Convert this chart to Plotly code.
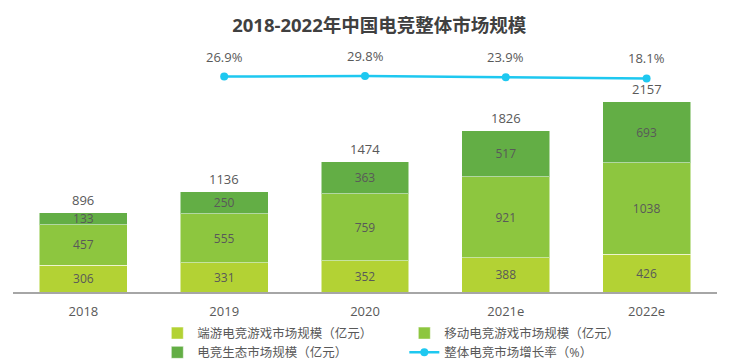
import plotly.graph_objects as go

categories = ["2018", "2019", "2020", "2021e", "2022e"]
pc_esports = [306, 331, 352, 388, 426]
mobile_esports = [457, 555, 759, 921, 1038]
ecosystem = [133, 250, 363, 517, 693]
totals = [896, 1136, 1474, 1826, 2157]
growth_cats = ["2019", "2020", "2021e", "2022e"]
growth = [26.9, 29.8, 23.9, 18.1]
growth_labels = ["26.9%", "29.8%", "23.9%", "18.1%"]

names = ["端游电竞游戏市场规模（亿元）", "移动电竞游戏市场规模（亿元）",
         "电竞生态市场规模（亿元）", "整体电竞市场增长率（%）"]
colors = ["#b3d234", "#8dc63f", "#63ae45"]
line_color = "#1ec8f0"
text_color = "#595959"
FONT = "Open Sans, Noto Sans CJK SC, sans-serif"

fig = go.Figure()
for vals, name, col in zip([pc_esports, mobile_esports, ecosystem], names[:3], colors):
    fig.add_trace(go.Bar(
        x=categories, y=vals, name=name,
        marker=dict(color=col, line=dict(color="rgba(255,255,255,0.5)", width=1)),
        text=[str(v) for v in vals], textposition="inside",
        insidetextanchor="middle",
        textfont=dict(color=text_color, size=12, family=FONT),
        hoverinfo="skip",
    ))

fig.add_trace(go.Scatter(
    x=growth_cats, y=growth, name=names[3], yaxis="y2",
    mode="lines+markers",
    line=dict(color=line_color, width=2.5),
    marker=dict(color=line_color, size=8),
    hoverinfo="skip",
))

annotations = []
for c, t in zip(categories, totals):
    annotations.append(dict(x=categories.index(c), y=t, xref="x", yref="y", text=str(t),
                            showarrow=False, yshift=13,
                            font=dict(size=13, color=text_color, family=FONT)))
for c, g, lbl in zip(growth_cats, growth, growth_labels):
    annotations.append(dict(x=categories.index(c), y=g, xref="x", yref="y2", text=lbl,
                            showarrow=False, yshift=20,
                            font=dict(size=13, color=text_color, family=FONT)))

fig.update_layout(
    width=750, height=361,
    margin=dict(l=5, r=41, t=37, b=77, autoexpand=False),
    paper_bgcolor="white", plot_bgcolor="white",
    barmode="stack", bargap=0.376,
    font=dict(family=FONT, color=text_color),
    uniformtext=dict(minsize=12, mode="show"),
    title=dict(text="<b>2018-2022年中国电竞整体市场规模</b>",
               x=0.495, xanchor="center", y=0.952, yanchor="middle",
               font=dict(size=18.5, color="#404040", family=FONT)),
    xaxis=dict(type="category", categoryorder="array", categoryarray=categories,
               range=[-0.5, len(categories) - 0.5],
               showline=True, linecolor="#a6a6a6", linewidth=2,
               ticks="", ticklabelstandoff=6,
               tickfont=dict(size=13, color=text_color, family=FONT),
               showgrid=False, zeroline=False),
    yaxis=dict(range=[0, 2800], visible=False, showgrid=False, zeroline=False),
    yaxis2=dict(range=[-1050, 185], overlaying="y", side="right",
                visible=False, showgrid=False, zeroline=False),
    legend=dict(orientation="h", x=0.205, xanchor="left",
                yref="container", y=0.14, yanchor="top",
                entrywidth=202, entrywidthmode="pixels",
                traceorder="normal",
                font=dict(size=12.5, color=text_color, family=FONT),
                tracegroupgap=0, itemwidth=30),
    annotations=annotations,
    showlegend=True,
)

fig.write_html("out.html")
